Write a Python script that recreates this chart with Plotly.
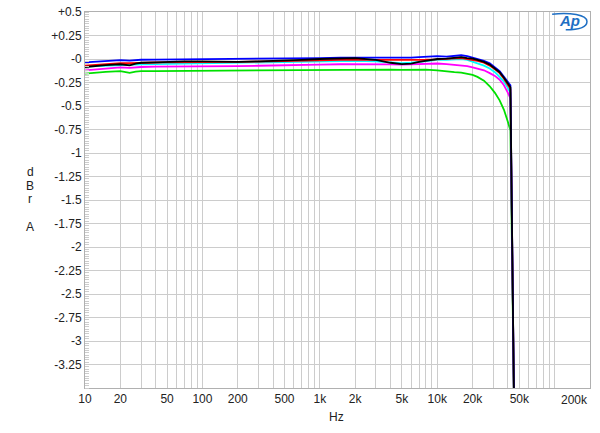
import plotly.graph_objects as go
import numpy as np

freq = [10, 12, 15, 20, 24, 27, 30, 40, 50, 70, 100, 150, 200, 300, 500, 700,
        1000, 1500, 2000, 3000, 4000, 5000, 6000, 7000, 8000, 10000, 12000, 14000,
        16000, 18000, 20000, 22000, 25000, 28000, 31000, 34000, 37000, 40000, 42000, 45200]

green = [-0.155, -0.145, -0.138, -0.13, -0.148, -0.135, -0.13, -0.129, -0.128, -0.127,
         -0.127, -0.126, -0.125, -0.123, -0.12, -0.118, -0.115, -0.112, -0.11, -0.11,
         -0.112, -0.115, -0.112, -0.11, -0.112, -0.12, -0.135, -0.14, -0.145, -0.155,
         -0.17, -0.19, -0.23, -0.29, -0.36, -0.44, -0.54, -0.67, -0.76, -3.8]

magenta = [-0.12, -0.11, -0.1, -0.09, -0.095, -0.088, -0.085, -0.082, -0.08, -0.078,
           -0.077, -0.076, -0.075, -0.072, -0.07, -0.065, -0.06, -0.056, -0.055, -0.055,
           -0.058, -0.06, -0.058, -0.055, -0.05, -0.048, -0.055, -0.06, -0.065, -0.075,
           -0.09, -0.1, -0.12, -0.15, -0.18, -0.22, -0.28, -0.36, -0.42, -3.8]

cyan = [-0.08, -0.075, -0.07, -0.062, -0.06, -0.058, -0.056, -0.054, -0.052, -0.05,
        -0.048, -0.046, -0.045, -0.04, -0.035, -0.03, -0.025, -0.02, -0.02, -0.025,
        -0.04, -0.045, -0.04, -0.03, -0.02, -0.01, -0.01, -0.005, 0.0, -0.01,
        -0.03, -0.045, -0.07, -0.1, -0.14, -0.19, -0.24, -0.31, -0.36, -3.8]

red = [-0.07, -0.062, -0.055, -0.045, -0.045, -0.042, -0.04, -0.037, -0.035, -0.032,
       -0.03, -0.03, -0.03, -0.028, -0.025, -0.02, -0.015, -0.01, -0.01, -0.01,
       -0.012, -0.015, -0.012, -0.01, -0.008, -0.005, 0.0, 0.005, 0.01, 0.0,
       -0.01, -0.02, -0.04, -0.07, -0.11, -0.15, -0.21, -0.28, -0.32, -3.8]

blue = [-0.035, -0.028, -0.02, -0.013, -0.018, -0.012, -0.008, -0.006, -0.005, -0.005,
        -0.004, -0.003, -0.002, 0.0, 0.003, 0.006, 0.01, 0.015, 0.015, 0.015,
        0.012, 0.01, 0.015, 0.02, 0.025, 0.03, 0.025, 0.035, 0.04, 0.03,
        0.015, 0.0, -0.02, -0.045, -0.085, -0.13, -0.19, -0.25, -0.28, -3.8]

black = [-0.085, -0.075, -0.065, -0.056, -0.068, -0.05, -0.04, -0.035, -0.03, -0.025,
         -0.025, -0.028, -0.03, -0.025, -0.02, -0.01, 0.0, 0.01, 0.01, -0.01,
         -0.04, -0.055, -0.05, -0.03, -0.02, 0.0, 0.005, 0.015, 0.02, 0.01,
         0.005, -0.01, -0.03, -0.06, -0.1, -0.14, -0.2, -0.27, -0.3, -3.8]

series = [("green", green, "#00e000"), ("magenta", magenta, "#ff00ff"),
          ("cyan", cyan, "#00ffff"), ("red", red, "#ff0000"),
          ("blue", blue, "#0000ff"), ("black", black, "#000000")]

x_tickvals = [10, 20, 50, 100, 200, 500, 1000, 2000, 5000, 10000, 20000, 50000]
x_ticktext = ["10", "20", "50", "100", "200", "500", "1k", "2k", "5k", "10k", "20k", "50k"]
x_gridvals = [m * 10 ** e for e in range(1, 6) for m in range(1, 10) if m * 10 ** e <= 200000] + [200000]

y_tickvals = [0.5, 0.25, 0, -0.25, -0.5, -0.75, -1, -1.25, -1.5, -1.75, -2, -2.25,
              -2.5, -2.75, -3, -3.25]
y_ticktext = ["+0.5", "+0.25", "-0", "-0.25", "-0.5", "-0.75", "-1", "-1.25", "-1.5",
              "-1.75", "-2", "-2.25", "-2.5", "-2.75", "-3", "-3.25"]

fig = go.Figure()
for name, vals, col in series:
    fig.add_trace(go.Scatter(x=freq, y=vals, mode="lines", name=name,
                             line=dict(color=col, width=1.8), showlegend=False))

font = "Liberation Sans, Arial, sans-serif"
grid = "#cccccc"

fig.update_layout(
    width=600, height=433,
    margin=dict(l=85, r=10, t=12, b=45, autoexpand=False),
    paper_bgcolor="white", plot_bgcolor="white",
    font=dict(family=font, size=12, color="#222222"),
    xaxis=dict(type="log", range=[1, np.log10(200000)], automargin=False,
               tickmode="array", tickvals=x_tickvals, ticktext=x_ticktext,
               showgrid=False, ticks="", showline=True, linecolor="#b0b0b0",
               mirror=True, zeroline=False,
               minor=dict(tickmode="array", tickvals=x_gridvals, showgrid=True,
                          gridcolor=grid, gridwidth=1, ticks="")),
    yaxis=dict(range=[-3.5, 0.5], tickmode="array", tickvals=y_tickvals, automargin=False,
               ticktext=y_ticktext, showgrid=True, gridcolor=grid, gridwidth=1,
               ticks="", showline=True, linecolor="#b0b0b0", mirror=True,
               zeroline=False,
               minor=dict(tickmode="linear", dtick=0.025, tick0=0, ticks="inside", ticklen=4,
                          tickcolor="#cccccc", showgrid=False)),
)

ann = []
ann.append(dict(x=np.log10(200000), y=0, xref="x", yref="paper", text="200k",
                showarrow=False, xanchor="right", yanchor="top", yshift=-3,
                font=dict(family=font, size=12, color="#222222")))
ann.append(dict(x=0.499, y=-0.077, xref="paper", yref="paper", text="Hz",
                showarrow=False, xanchor="center", yanchor="middle",
                font=dict(family=font, size=12, color="#222222")))
for letter, py in [("d", 172), ("B", 185.5), ("r", 199), ("A", 227)]:
    ann.append(dict(x=(30 - 85) / 505, y=(388 - py) / 376.3, xref="paper", yref="paper",
                    text=letter, showarrow=False, xanchor="center", yanchor="middle",
                    font=dict(family=font, size=12, color="#222222")))
ann.append(dict(x=(569 - 85) / 505, y=(388 - 20) / 376.3, xref="paper", yref="paper",
                text="<b><i>Ap</i></b>", showarrow=False, xanchor="center", yanchor="middle",
                font=dict(family=font, size=15, color="#1e6fc4")))
fig.update_layout(annotations=ann)

fig.add_shape(type="path", xref="paper", yref="paper",
              path="M 0.925,0.994 C 0.96,1.0 0.994,0.992 0.994,0.975 C 0.994,0.958 0.975,0.953 0.952,0.953",
              line=dict(color="#1e6fc4", width=1.5))

fig.write_html("out.html", config={"displayModeBar": False},
               post_script="document.body.style.margin='0px';document.body.style.padding='0px';")
